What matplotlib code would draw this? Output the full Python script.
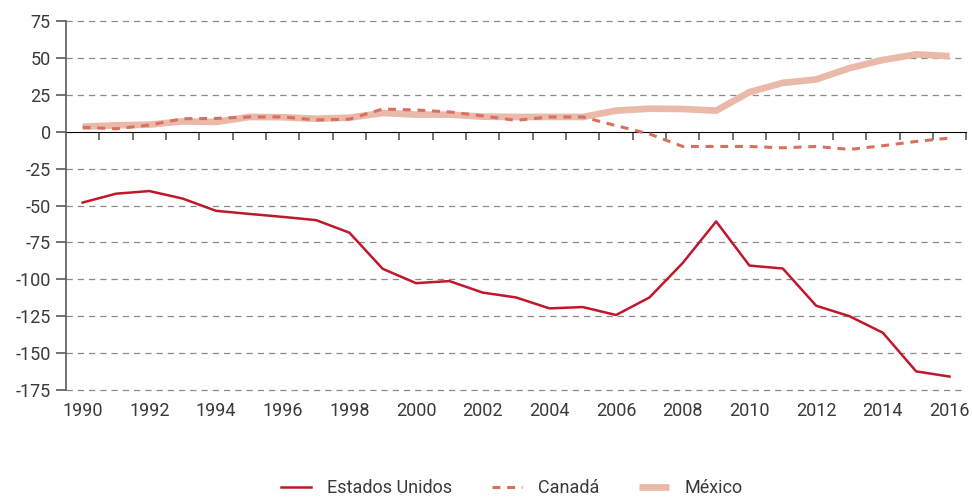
import matplotlib
matplotlib.use("Agg")
import matplotlib.pyplot as plt
import numpy as np

plt.rcParams["font.family"] = ["Roboto", "DejaVu Sans"]
plt.rcParams["axes.unicode_minus"] = False

years = list(range(1990, 2017))
estados_unidos = [-48.0, -42.0, -40.2, -45.3, -53.6, -55.7, -57.7, -59.9, -68.4, -92.9,
                  -102.6, -101.2, -109.0, -112.3, -119.7, -118.8, -124.2, -112.3, -88.9, -60.8,
                  -90.7, -92.7, -117.9, -125.0, -136.2, -162.4, -165.9]
canada = [3.0, 2.0, 4.5, 8.8, 9.0, 10.0, 10.0, 8.0, 8.5, 15.4,
          14.7, 13.4, 10.7, 7.7, 10.0, 10.0, 4.1, -1.5, -10.0, -10.0,
          -10.0, -10.9, -10.0, -12.0, -9.5, -6.6, -4.3]
mexico = [3.4, 4.3, 4.8, 7.0, 6.6, 10.0, 9.8, 8.8, 9.5, 12.7,
          11.6, 11.6, 10.2, 10.0, 10.0, 10.0, 14.3, 15.6, 15.4, 14.3,
          26.8, 33.1, 35.4, 43.1, 48.6, 52.4, 51.2]
yticks = [75, 50, 25, 0, -25, -50, -75, -100, -125, -150, -175]

text_c = "#3a3a3a"
axis_c = "#5a5a5a"

fig = plt.figure(figsize=(9.73, 4.97), dpi=100)
ax = fig.add_axes([0.0678, 0.2153, 0.9252, 0.7424])

ax.plot(years, mexico, color="#ebb9aa", lw=4.8, solid_capstyle="butt", label="México", zorder=3)
ax.plot(years, canada, color="#d9705f", lw=2.2, ls=(0, (2.6, 2.2)), label="Canadá", zorder=4)
ax.plot(years, estados_unidos, color="#c0172d", lw=1.8, label="Estados Unidos", zorder=5)

ax.set_xlim(1989.5, 2016.5)
ax.set_ylim(-175, 75)
ax.set_yticks(yticks)
ax.set_xticks(range(1990, 2017, 2))

for y in yticks:
    if y != 0:
        ax.axhline(y, color="#8a8a8a", lw=0.9, ls=(0, (5, 4)), zorder=1, clip_on=False)

for side in ("top", "right", "bottom"):
    ax.spines[side].set_visible(False)
ax.spines["left"].set_color(axis_c)
ax.spines["left"].set_linewidth(1.2)
ax.tick_params(axis="y", length=7, width=1.2, color=axis_c, labelcolor=text_c,
               labelsize=13, pad=4)
ax.tick_params(axis="x", length=0, labelcolor=text_c, labelsize=13, pad=9)

# zero line carrying the category separators
zero = ax.secondary_xaxis((0 - (-175)) / 250)
zero.spines["bottom"].set_color(axis_c)
zero.spines["bottom"].set_linewidth(1.2)
zero.set_xticks(np.arange(1990.5, 2017, 1.0))
zero.set_xticklabels([])
zero.xaxis.set_ticks_position("bottom")
zero.tick_params(axis="x", direction="out", length=6, width=1.2, color=axis_c,
                 labelbottom=False, labeltop=False)

handles, labels = ax.get_legend_handles_labels()
order = [2, 1, 0]
fig.legend([handles[i] for i in order], [labels[i] for i in order],
           loc="center", bbox_to_anchor=(0.526, 0.018), ncol=3, frameon=False,
           fontsize=13, handlelength=1.7, handletextpad=0.85, columnspacing=2.2,
           labelcolor=text_c)

fig.savefig("out.png", dpi=100)
